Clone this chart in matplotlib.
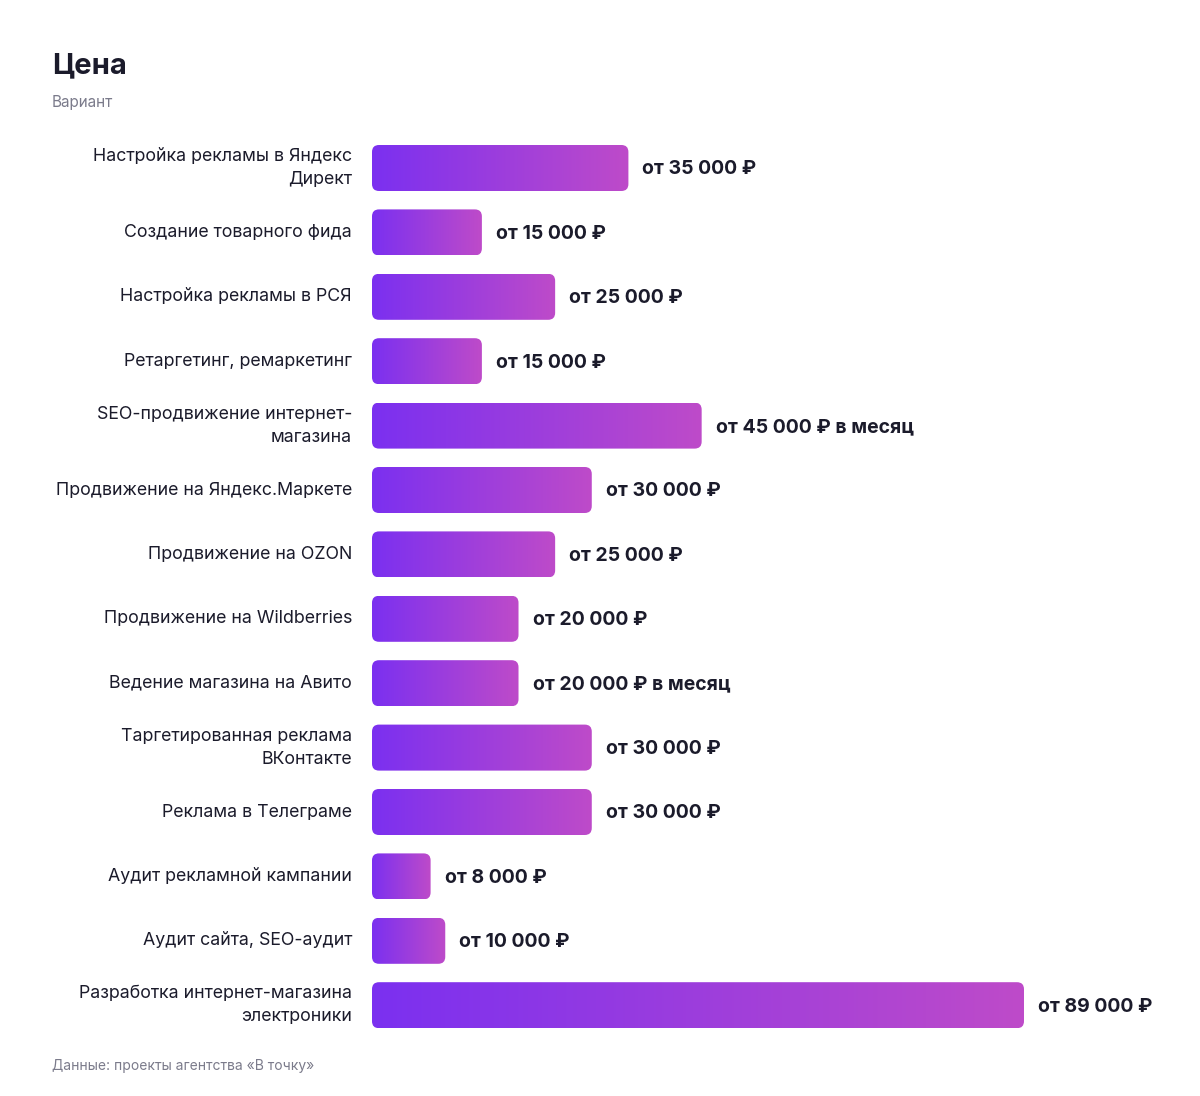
import numpy as np
import matplotlib
matplotlib.use("Agg")
import matplotlib.pyplot as plt
from matplotlib.patches import FancyBboxPatch
from matplotlib.colors import LinearSegmentedColormap

plt.rcParams['font.family'] = ['Inter', 'DejaVu Sans']

categories = [
    "Настройка рекламы в Яндекс\nДирект",
    "Создание товарного фида",
    "Настройка рекламы в РСЯ",
    "Ретаргетинг, ремаркетинг",
    "SEO-продвижение интернет-\nмагазина",
    "Продвижение на Яндекс.Маркете",
    "Продвижение на OZON",
    "Продвижение на Wildberries",
    "Ведение магазина на Авито",
    "Таргетированная реклама\nВКонтакте",
    "Реклама в Телеграме",
    "Аудит рекламной кампании",
    "Аудит сайта, SEO-аудит",
    "Разработка интернет-магазина\nэлектроники",
]
values = [35000, 15000, 25000, 15000, 45000, 30000, 25000, 20000, 20000,
          30000, 30000, 8000, 10000, 89000]
value_labels = [
    "от 35 000 ₽", "от 15 000 ₽", "от 25 000 ₽", "от 15 000 ₽",
    "от 45 000 ₽ в месяц", "от 30 000 ₽", "от 25 000 ₽", "от 20 000 ₽",
    "от 20 000 ₽ в месяц", "от 30 000 ₽", "от 30 000 ₽", "от 8 000 ₽",
    "от 10 000 ₽", "от 89 000 ₽",
]

W, H = 1200, 1096
fig = plt.figure(figsize=(W / 100, H / 100), dpi=100)
fig.patch.set_facecolor("white")

# axes geometry in pixels
ax_left, ax_right = 372, 1024
n = len(categories)
row = 64.4
first_c = 168
ax_top = first_c - row / 2
ax_bot = ax_top + n * row
ax = fig.add_axes([ax_left / W, 1 - ax_bot / H, (ax_right - ax_left) / W, (ax_bot - ax_top) / H])
xmax = 89000
ax.set_xlim(0, xmax)
ax.set_ylim(n - 0.5, -0.5)
ax.axis("off")

cmap = LinearSegmentedColormap.from_list("g", ["#7B30F0", "#BE4BC9"])
grad = np.linspace(0, 1, 256).reshape(1, -1)

xu_per_px = xmax / (ax_right - ax_left)
yu_per_px = 1 / row
bar_h = 46 / row
radius_px = 7
dark = "#1b1b2b"

for i, (cat, v, lab) in enumerate(zip(categories, values, value_labels)):
    y0 = i - bar_h / 2
    patch = FancyBboxPatch((0, y0), v, bar_h,
                           boxstyle=f"round,pad=0,rounding_size={radius_px * xu_per_px}",
                           mutation_aspect=yu_per_px / xu_per_px,
                           facecolor="none", edgecolor="none")
    ax.add_patch(patch)
    im = ax.imshow(grad, cmap=cmap, aspect="auto", extent=(0, v, i + bar_h / 2, y0),
                   interpolation="bilinear")
    im.set_clip_path(patch)
    ax.text(v + 14 * xu_per_px, i + 1.5 * yu_per_px, lab, ha="left", va="center", fontsize=14,
            fontweight="bold", color=dark, clip_on=False)
    ax.text(-20 * xu_per_px, i, cat, ha="right", va="center", fontsize=12.8,
            color=dark, linespacing=1.45, clip_on=False)

ax.set_xlim(0, xmax)
ax.set_ylim(n - 0.5, -0.5)

fig.text(52 / W, 1 - 66 / H, "Цена", ha="left", va="center", fontsize=21,
         fontweight="bold", color=dark)
fig.text(52 / W, 1 - 103 / H, "Вариант", ha="left", va="center", fontsize=11,
         color="#7b7b8b")
fig.text(52 / W, 1 - 1066 / H, "Данные: проекты агентства «В точку»", ha="left",
         va="center", fontsize=10, color="#7b7b8b")

fig.savefig("out.png", dpi=100, facecolor="white")
